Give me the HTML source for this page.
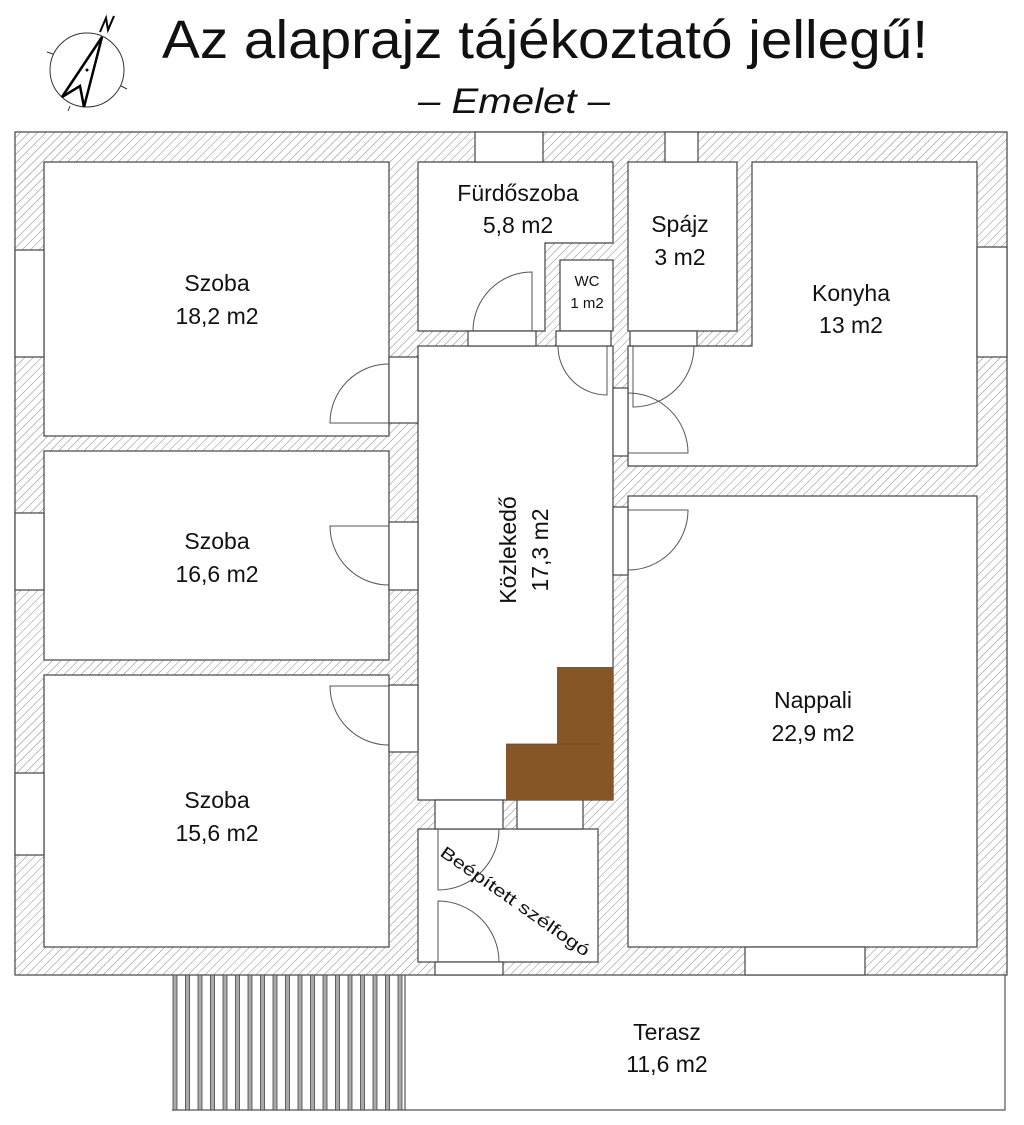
<!DOCTYPE html>
<html><head><meta charset="utf-8"><style>
html,body{margin:0;padding:0;background:#fff;}
svg{display:block;}
text{font-family:"Liberation Sans",sans-serif;fill:#111;}
</style></head><body>
<svg width="1024" height="1125" viewBox="0 0 1024 1125" xmlns="http://www.w3.org/2000/svg">
<defs>
<pattern id="h" width="6" height="6" patternUnits="userSpaceOnUse" patternTransform="rotate(45)">
<rect width="6" height="6" fill="#fff"/>
<line x1="0" y1="0" x2="0" y2="6" stroke="#888" stroke-width="1"/>
</pattern>
</defs>

<!-- title -->
<text x="545" y="58" font-size="54" text-anchor="middle" textLength="766" lengthAdjust="spacingAndGlyphs">Az alaprajz tájékoztató jellegű!</text>
<text x="514" y="113" font-size="35" font-style="italic" text-anchor="middle" textLength="192" lengthAdjust="spacingAndGlyphs">– Emelet –</text>

<!-- compass -->
<g fill="none" stroke="#333">
<circle cx="87" cy="70" r="37" stroke-width="1"/>
<line x1="47" y1="52" x2="53" y2="54"/><line x1="121" y1="86" x2="127" y2="89"/><line x1="70" y1="106" x2="68" y2="111"/>
<polygon points="102,37 62,97 80,86 84,107" stroke="#000" stroke-width="2.5" stroke-linejoin="miter"/>
<polyline points="100,32 106,18 108,30 114,16" stroke="#000" stroke-width="2"/>
</g>
<circle cx="87" cy="70" r="1.5" fill="#000"/>

<!-- walls -->
<rect x="15" y="132" width="992" height="843" fill="url(#h)" stroke="#444" stroke-width="1.2"/>

<g fill="#fff" stroke="#444" stroke-width="1.2">
<rect x="44" y="162" width="345" height="274"/>
<rect x="44" y="451" width="345" height="209"/>
<rect x="44" y="675" width="345" height="272"/>
<polygon points="418,162 613,162 613,243 545,243 545,331 418,331"/>
<rect x="560" y="260" width="53" height="71"/>
<rect x="628" y="162" width="109" height="169"/>
<polygon points="752,162 977,162 977,466 628,466 628,346 752,346"/>
<rect x="418" y="346" width="195" height="454"/>
<rect x="628" y="496" width="349" height="451"/>
<rect x="418" y="829" width="180" height="133"/>
<rect x="475" y="132" width="68" height="30"/>
<rect x="665" y="132" width="33" height="30"/>
<rect x="15" y="250" width="29" height="107"/>
<rect x="15" y="513" width="29" height="77"/>
<rect x="15" y="773" width="29" height="82"/>
<rect x="977" y="247" width="30" height="110"/>
<rect x="745" y="947" width="120" height="28"/>
<rect x="389" y="357" width="29" height="66"/>
<rect x="389" y="522" width="29" height="68"/>
<rect x="389" y="685" width="29" height="67"/>
<rect x="468" y="331" width="68" height="15"/>
<rect x="556" y="331" width="55" height="15"/>
<rect x="630" y="331" width="67" height="15"/>
<rect x="613" y="388" width="15" height="68"/>
<rect x="613" y="507" width="15" height="68"/>
<rect x="435" y="800" width="68" height="29"/>
<rect x="517" y="800" width="66" height="29"/>
<rect x="435" y="962" width="68" height="13"/>
</g>

<!-- stairs -->
<polygon points="557,667 613,667 613,800 506,800 506,744 557,744" fill="#875626"/>
<line x1="506" y1="744" x2="600" y2="744" stroke="#6e4520" stroke-width="0.8"/>

<!-- doors -->
<g fill="none" stroke="#555" stroke-width="1">
<path d="M389,423 L330,423 A59,59 0 0 1 389,364"/>
<path d="M389,526 L330,526 A59,59 0 0 0 389,585"/>
<path d="M389,686 L330,686 A59,59 0 0 0 389,745"/>
<path d="M532,331 L532,272 A59,59 0 0 0 473,331"/>
<path d="M607,346 L607,395 A49,49 0 0 1 558,346"/>
<path d="M633,346 L633,407 A61,61 0 0 0 694,346"/>
<path d="M628,453 L688,453 A60,60 0 0 0 628,393"/>
<path d="M628,510 L688,510 A60,60 0 0 1 628,570"/>
<path d="M438,829 L438,890 A61,61 0 0 0 499,829"/>
<path d="M438,962 L438,901 A61,61 0 0 1 499,962"/>
</g>

<!-- terrace -->
<g fill="none" stroke="#555" stroke-width="1.2">
<polyline points="172,1110 1005,1110 1005,975"/>
<line x1="405" y1="975" x2="405" y2="1110"/>
</g>
<g fill="#aaa" stroke="#444" stroke-width="0.8">
<rect x="173" y="975" width="4" height="135"/>
<rect x="185.5" y="975" width="4" height="135"/>
<rect x="198" y="975" width="4" height="135"/>
<rect x="210.5" y="975" width="4" height="135"/>
<rect x="223" y="975" width="4" height="135"/>
<rect x="235.5" y="975" width="4" height="135"/>
<rect x="248" y="975" width="4" height="135"/>
<rect x="260.5" y="975" width="4" height="135"/>
<rect x="273" y="975" width="4" height="135"/>
<rect x="285.5" y="975" width="4" height="135"/>
<rect x="298" y="975" width="4" height="135"/>
<rect x="310.5" y="975" width="4" height="135"/>
<rect x="323" y="975" width="4" height="135"/>
<rect x="335.5" y="975" width="4" height="135"/>
<rect x="348" y="975" width="4" height="135"/>
<rect x="360.5" y="975" width="4" height="135"/>
<rect x="373" y="975" width="4" height="135"/>
<rect x="385.5" y="975" width="4" height="135"/>
<rect x="398" y="975" width="4" height="135"/>
</g>

<!-- labels -->
<g font-size="23" text-anchor="middle">
<text x="217" y="291">Szoba</text><text x="217" y="324">18,2 m2</text>
<text x="217" y="549">Szoba</text><text x="217" y="582">16,6 m2</text>
<text x="217" y="808">Szoba</text><text x="217" y="841">15,6 m2</text>
<text x="518" y="201">Fürdőszoba</text><text x="518" y="233">5,8 m2</text>
<text x="680" y="232">Spájz</text><text x="680" y="265">3 m2</text>
<text x="851" y="301">Konyha</text><text x="851" y="333">13 m2</text>
<text x="813" y="708">Nappali</text><text x="813" y="741">22,9 m2</text>
<text x="667" y="1040">Terasz</text><text x="667" y="1072">11,6 m2</text>
<g transform="translate(516,550) rotate(-90)">
<text x="0" y="0">Közlekedő</text><text x="0" y="32">17,3 m2</text>
</g>
</g>
<g font-size="15" text-anchor="middle">
<text x="587" y="286">WC</text><text x="587" y="308">1 m2</text>
</g>
<text x="0" y="0" font-size="17" transform="translate(439,855) rotate(35)" textLength="178" lengthAdjust="spacingAndGlyphs">Beépített szélfogó</text>
</svg>
</body></html>
